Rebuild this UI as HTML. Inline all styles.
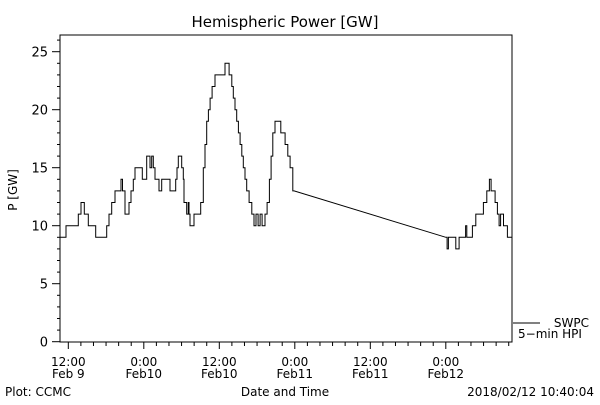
<!DOCTYPE html>
<html><head><meta charset="utf-8"><style>
html,body{margin:0;padding:0;background:#fff;}
svg text{font-family:"DejaVu Sans","Liberation Sans",sans-serif;fill:#000;}
</style></head><body>
<svg id="chart" width="600" height="400" viewBox="0 0 600 400" xmlns="http://www.w3.org/2000/svg">
<rect width="600" height="400" fill="#fff"/>
<text x="285" y="27" font-size="15" text-anchor="middle">Hemispheric Power [GW]</text>
<text x="0" y="0" font-size="12" text-anchor="middle" transform="translate(17,190) rotate(-90)">P [GW]</text>
<rect x="60" y="35" width="452" height="307" fill="none" stroke="#000" stroke-width="1"/>
<g id="yticks"></g>
<g id="xticks"></g>
<path id="series" fill="none" stroke="#000" stroke-width="1"/>
<line x1="513" y1="323" x2="540" y2="323" stroke="#000"/>
<text x="589" y="327" font-size="12" text-anchor="end">SWPC</text>
<text x="518" y="338" font-size="12">5−min HPI</text>
<text x="285" y="396" font-size="12" text-anchor="middle">Date and Time</text>
<text x="5" y="396" font-size="12">Plot: CCMC</text>
<text x="594" y="396" font-size="12" text-anchor="end">2018/02/12 10:40:04</text>
</svg>
<script>
// hours since 2018-02-09 00:00
const times = [10.68,11.63,13.59,14.02,14.54,15.18,16.36,18.10,18.47,18.90,19.42,20.38,20.62,21.01,21.65,21.97,22.33,22.60,23.76,24.46,24.99,25.26,25.51,25.78,26.42,26.85,28.17,29.07,29.28,29.49,30.03,30.28,30.39,30.82,31.08,31.19,31.35,31.98,33.05,33.46,33.73,34.00,34.26,34.53,34.85,35.32,36.91,37.55,37.98,38.23,38.50,38.77,39.03,39.30,39.57,39.82,40.09,40.36,40.73,41.16,41.52,41.84,42.16,42.48,42.80,43.27,43.59,43.96,44.23,44.50,44.86,45.77,46.45,46.88,47.25,47.68,47.88,72.00,72.20,72.41,73.59,74.11,75.15,75.34,76.23,76.77,77.98,78.52,78.93,79.20,79.84,80.20,80.47,80.71,81.17,81.79,82.54];
const power = [9,10,11,12,11,10,9,10,11,12,13,14,13,11,12,13,14,15,14,16,15,16,15,14,13,14,13,14,15,16,15,14,12,11,12,11,10,11,12,15,17,19,20,21,22,23,24,23,22,21,20,19,18,17,16,15,14,13,12,11,10,11,10,11,10,11,12,14,16,18,19,18,17,16,15,13,13,9,8,9,8,9,10,9,10,11,12,13,14,13,12,11,10,11,10,9,9];
const yTickValues = [0,5,10,15,20,25];
const xTickHours = [12,24,36,48,60,72];
const xTickTimes = ["12:00","0:00","12:00","0:00","12:00","0:00"];
const xTickDates = ["Feb 9","Feb10","Feb10","Feb11","Feb11","Feb12"];

const NS = "http://www.w3.org/2000/svg";
const X0 = 60, X1 = 512, Y0 = 341.7, PXU = 11.6;
const H0 = 10.68, PXH = 75.5/12;
const xs = h => X0 + (h - H0) * PXH;
const ys = v => Y0 - v * PXU;
function mk(tag, attrs, parent){ const e=document.createElementNS(NS,tag); for(const k in attrs) e.setAttribute(k,attrs[k]); parent.appendChild(e); return e; }

const yg = document.getElementById('yticks');
for (let v = 0; v <= 26; v++) {
  const major = v % 5 === 0;
  const t = mk('line',{x1:X0-(major?8:3),x2:X0,y1:ys(v),y2:ys(v),stroke:'#000'},yg);
  
  
}
yTickValues.forEach(v => {
  const t = mk('text',{x:X0-12,y:ys(v)+5,'font-size':13,'text-anchor':'end'},yg);
  t.textContent = v;
  
  
});

const xg = document.getElementById('xticks');
for (let h = 12; h <= 82; h += 2) {
  const major = h % 12 === 0;
  const t = mk('line',{x1:xs(h),x2:xs(h),y1:342,y2:major?349:346,stroke:'#000'},xg);
  
  
}
xTickHours.forEach((h,i) => {
  const a = mk('text',{x:xs(h),y:366,'font-size':12,'text-anchor':'middle'},xg);
  a.textContent = xTickTimes[i];
  
  
  const b = mk('text',{x:xs(h),y:378,'font-size':12,'text-anchor':'middle'},xg);
  b.textContent = xTickDates[i];
  
  
});

let d = `M${xs(times[0]).toFixed(1)},${ys(power[0]).toFixed(1)}`;
for (let i = 1; i < times.length; i++) {
  const x = xs(times[i]).toFixed(1), y = ys(power[i]).toFixed(1);
  if (times[i] - times[i-1] > 2) d += ` L${x},${y}`;
  else d += ` H${x} V${y}`;
}
document.getElementById('series').setAttribute('d', d);
</script>
</body></html>
